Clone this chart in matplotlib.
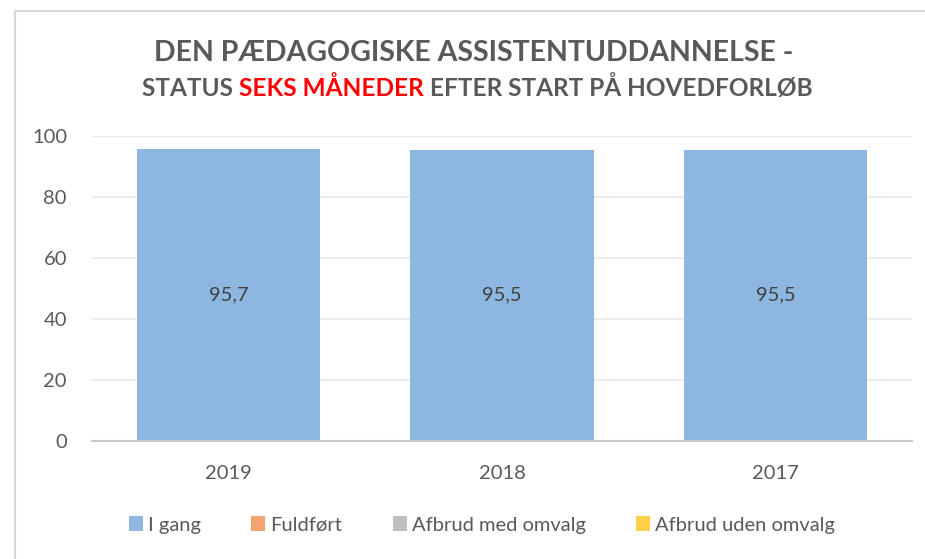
import matplotlib.pyplot as plt
from matplotlib.patches import Rectangle
import numpy as np

years = ['2019', '2018', '2017']
i_gang = [95.7, 95.5, 95.5]
fuldfort = [0, 0, 0]
afbrud_med = [0, 0, 0]
afbrud_uden = [0, 0, 0]

series = [
    ('I gang', i_gang, '#8db7e1'),
    ('Fuldført', fuldfort, '#f4a470'),
    ('Afbrud med omvalg', afbrud_med, '#bfbfbf'),
    ('Afbrud uden omvalg', afbrud_uden, '#ffd14a'),
]

plt.rcParams['font.family'] = ['Lato', 'DejaVu Sans']

fig = plt.figure(figsize=(9.25, 5.59), dpi=100)
ax = fig.add_axes([92 / 925, 1 - 441 / 559, 820 / 925, 305 / 559])

x = np.arange(len(years))
bottom = np.zeros(len(years))
for name, vals, col in series:
    ax.bar(x, vals, 0.67, bottom=bottom, color=col, label=name, zorder=2)
    bottom += np.array(vals)

for xi, v in zip(x, i_gang):
    ax.text(xi, v / 2, f'{v:.1f}'.replace('.', ','), ha='center', va='center',
            fontsize=14.5, color='#404040')

ax.set_xlim(-0.5, 2.5)
ax.set_ylim(0, 100)
ax.set_yticks([0, 20, 40, 60, 80, 100])
ax.set_xticks(x)
ax.set_xticklabels(years)
ax.tick_params(axis='both', length=0, labelsize=14.5, labelcolor='#595959')
ax.tick_params(axis='x', pad=17)
ax.tick_params(axis='y', pad=18)
ax.grid(axis='y', color='#ececec', linewidth=1.5, zorder=0)
for s in ['top', 'right', 'left']:
    ax.spines[s].set_visible(False)
ax.spines['bottom'].set_color('#c8c8c8')
ax.spines['bottom'].set_linewidth(1.5)
ax.spines['bottom'].set_zorder(3)

ax.legend(loc='center', bbox_to_anchor=(482 / 925, 1 - 525 / 559), bbox_transform=fig.transFigure,
          ncol=4, frameon=False, fontsize=14.5, handlelength=0.7, handleheight=0.7,
          handletextpad=0.25, columnspacing=2.5, labelcolor='#595959')

# title
fig.text(474 / 925, 1 - 53 / 559, 'DEN PÆDAGOGISKE ASSISTENTUDDANNELSE -', ha='center', va='center',
         fontsize=20.5, fontweight='bold', color='#595959')

parts = [('STATUS ', '#595959'), ('SEKS MÅNEDER', '#ff0000'), (' EFTER START PÅ HOVEDFORLØB', '#595959')]
fig.canvas.draw()
r = fig.canvas.get_renderer()
texts = []
for s, c in parts:
    t = fig.text(0, 1 - 88 / 559, s, ha='left', va='center', fontsize=17.6, fontweight='bold', color=c)
    texts.append(t)
widths = [t.get_window_extent(renderer=r).width for t in texts]
total = sum(widths)
xpos = 477 - total / 2
for t, w in zip(texts, widths):
    t.set_x(xpos / 925)
    xpos += w

fig.patches.append(Rectangle((15 / 925, -0.1), 1.2, 1.1 - 11 / 559, transform=fig.transFigure,
                             fill=False, edgecolor='#d9d9d9', linewidth=1.5))

fig.savefig('out.png', dpi=100)
